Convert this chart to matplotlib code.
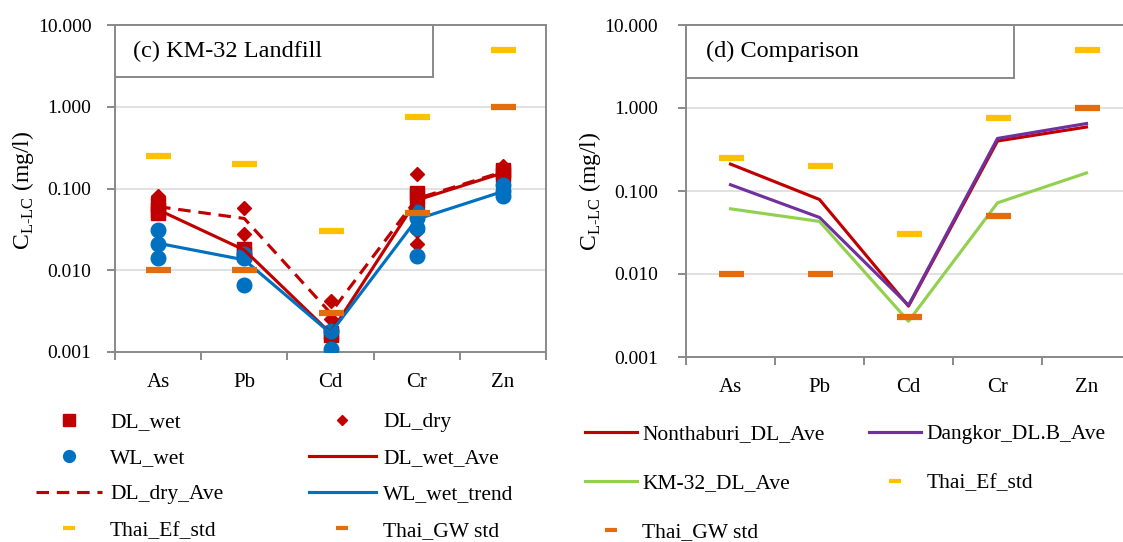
import matplotlib
matplotlib.use('Agg')
import matplotlib.pyplot as plt
from matplotlib.lines import Line2D
from matplotlib.patches import Rectangle
import numpy as np

plt.rcParams['font.family'] = ['Liberation Serif', 'DejaVu Serif']
plt.rcParams['mathtext.fontset'] = 'custom'
plt.rcParams['mathtext.rm'] = 'Liberation Serif'

metals = ['As', 'Pb', 'Cd', 'Cr', 'Zn']

# (c) KM-32 landfill, individual samples per metal
dl_wet = [[0.065, 0.055, 0.05], [0.018, 0.016], [0.0017, 0.0016],
          [0.088, 0.08, 0.055], [0.17, 0.147, 0.16]]
dl_dry = [[0.082, 0.05], [0.057, 0.028], [0.0042, 0.0025],
          [0.15, 0.03, 0.021], [0.19, 0.16]]
wl_wet = [[0.031, 0.021, 0.0143], [0.016, 0.014, 0.0066], [0.0018, 0.0011],
          [0.052, 0.043, 0.033, 0.015], [0.11, 0.092, 0.08]]
dl_wet_ave = [0.055, 0.0177, 0.0017, 0.072, 0.155]
dl_dry_ave = [0.06, 0.043, 0.003, 0.075, 0.16]
wl_wet_trend = [0.0214, 0.0134, 0.0017, 0.042, 0.092]

# (d) comparison
nonthaburi = [0.211, 0.079, 0.0041, 0.40, 0.59]
dangkor = [0.119, 0.048, 0.0042, 0.43, 0.65]
km32 = [0.061, 0.043, 0.0027, 0.072, 0.165]

thai_ef = [0.25, 0.2, 0.03, 0.75, 5.0]
thai_gw = [0.01, 0.01, 0.003, 0.05, 1.0]

RED = '#C00000'
BLUE = '#0070C0'
YEL = '#FFC000'
ORA = '#E46C0A'
GRN = '#92D050'
PUR = '#7030A0'
GREY = '#898989'
FS = 14
LFS = 15.5

W, H = 1123, 542
fig = plt.figure(figsize=(W / 100, H / 100), dpi=100)


def px_axes(x0, x1, ytop, ybot):
    return fig.add_axes([x0 / W, (H - ybot) / H, (x1 - x0) / W, (ybot - ytop) / H])


def style(ax, labelpad):
    ax.set_yscale('log')
    ax.set_ylim(0.001, 10)
    ax.set_xlim(-0.5, 4.5)
    ax.set_yticks([0.001, 0.01, 0.1, 1, 10])
    ax.set_yticklabels(['%.3f' % v for v in [0.001, 0.01, 0.1, 1, 10]])
    ax.yaxis.set_minor_locator(matplotlib.ticker.NullLocator())
    ax.set_xticks(np.arange(-0.5, 5, 1))
    ax.set_xticklabels([])
    ax.set_xticks(range(5), minor=True)
    ax.set_xticklabels(metals, minor=True)
    ax.tick_params(axis='x', which='major', length=6, width=1.4, color=GREY)
    ax.tick_params(axis='x', which='minor', length=0, pad=15, labelsize=FS + 1)
    ax.tick_params(axis='y', which='major', length=6, width=1.4, color=GREY,
                   pad=labelpad, labelsize=FS)
    for s in ax.spines.values():
        s.set_color(GREY)
        s.set_linewidth(1.4)
    ax.grid(axis='y', color='#D9D9D9', lw=1.1)
    ax.set_axisbelow(True)


def title_box(ax, x1, ybot, text, tx):
    ax.add_patch(Rectangle((0, ybot), x1, 1 - ybot, transform=ax.transAxes,
                           fill=True, facecolor='white', edgecolor=GREY, lw=1.4,
                           zorder=20, clip_on=False))
    ax.text(tx, (1 + ybot) / 2, text, transform=ax.transAxes, fontsize=17.5,
            va='center', ha='left', zorder=21)


std_kw = dict(ls='none', marker='_', markersize=18, mew=4.5)

# ---- left panel
ax1 = px_axes(115, 546, 25, 352)
style(ax1, 11)
x = np.arange(5)
ax1.plot(x, dl_wet_ave, color=RED, lw=2.25, zorder=4)
ax1.plot(x, dl_dry_ave, color=RED, lw=2.25, dashes=(4, 2.5), zorder=4)
ax1.plot(x, wl_wet_trend, color=BLUE, lw=2.25, zorder=5)
for i in range(5):
    ax1.plot([i] * len(dl_wet[i]), dl_wet[i], ls='none', marker='s', ms=10,
             color=RED, zorder=3)
    ax1.plot([i] * len(dl_dry[i]), dl_dry[i], ls='none', marker='D', ms=7.5,
             color=RED, zorder=3)
    ax1.plot([i] * len(wl_wet[i]), wl_wet[i], ls='none', marker='o', ms=10.5,
             color=BLUE, zorder=3.5)
ax1.plot(x, thai_ef, color=YEL, zorder=6, **std_kw)
ax1.plot(x, thai_gw, color=ORA, zorder=6, **std_kw)
title_box(ax1, 0.738, 0.841, '(c) KM-32 Landfill', 0.042)

# ---- right panel
ax2 = px_axes(686, 1131, 25, 357)
style(ax2, 14)
ax2.plot(x, nonthaburi, color=RED, lw=2.25, zorder=4)
ax2.plot(x, dangkor, color=PUR, lw=2.25, zorder=4)
ax2.plot(x, km32, color=GRN, lw=2.25, zorder=4)
ax2.plot(x, thai_ef, color=YEL, zorder=6, **std_kw)
ax2.plot(x, thai_gw, color=ORA, zorder=6, **std_kw)
title_box(ax2, 0.737, 0.84, '(d) Comparison', 0.045)

ylab = 'C$_{\\mathregular{L\u2010LC}}$ (mg/l)'
fig.text(23 / W, 1 - 190 / H, ylab, rotation=90, ha='center', va='center', fontsize=17)
fig.text(590 / W, 1 - 191 / H, ylab, rotation=90, ha='center', va='center', fontsize=17)

# ---- legends
lstd = dict(ls='none', marker='_', markersize=8, mew=3)
h_left = [
    Line2D([], [], ls='none', marker='s', ms=8.5, color=RED, label='DL_wet'),
    Line2D([], [], ls='none', marker='o', ms=8.5, color=BLUE, label='WL_wet'),
    Line2D([], [], color=RED, lw=2.25, dashes=(4, 2.5), label='DL_dry_Ave'),
    Line2D([], [], color=YEL, label='Thai_Ef_std', **lstd),
    Line2D([], [], ls='none', marker='D', ms=5.5, color=RED, label='DL_dry'),
    Line2D([], [], color=RED, lw=2.25, label='DL_wet_Ave'),
    Line2D([], [], color=BLUE, lw=2.25, label='WL_wet_trend'),
    Line2D([], [], color=ORA, label='Thai_GW std', **lstd),
]
fig.legend(handles=h_left, ncol=2, loc='upper left', bbox_to_anchor=(36 / W, 1 - 412 / H),
           frameon=False, fontsize=LFS, handlelength=3.07, handletextpad=0.37,
           columnspacing=4.0, labelspacing=0.75, borderpad=0, borderaxespad=0)

h_right = [
    Line2D([], [], color=RED, lw=2.25, label='Nonthaburi_DL_Ave'),
    Line2D([], [], color=GRN, lw=2.25, label='KM-32_DL_Ave'),
    Line2D([], [], color=ORA, label='Thai_GW std', **lstd),
    Line2D([], [], color=PUR, lw=2.25, label='Dangkor_DL.B_Ave'),
    Line2D([], [], color=YEL, label='Thai_Ef_std', **lstd),
]
fig.legend(handles=h_right, ncol=2, loc='upper left', bbox_to_anchor=(585 / W, 1 - 424 / H),
           frameon=False, fontsize=LFS, handlelength=2.42, handletextpad=0.25,
           columnspacing=2.05, labelspacing=1.35, borderpad=0, borderaxespad=0)

fig.savefig('out.png', dpi=100)
